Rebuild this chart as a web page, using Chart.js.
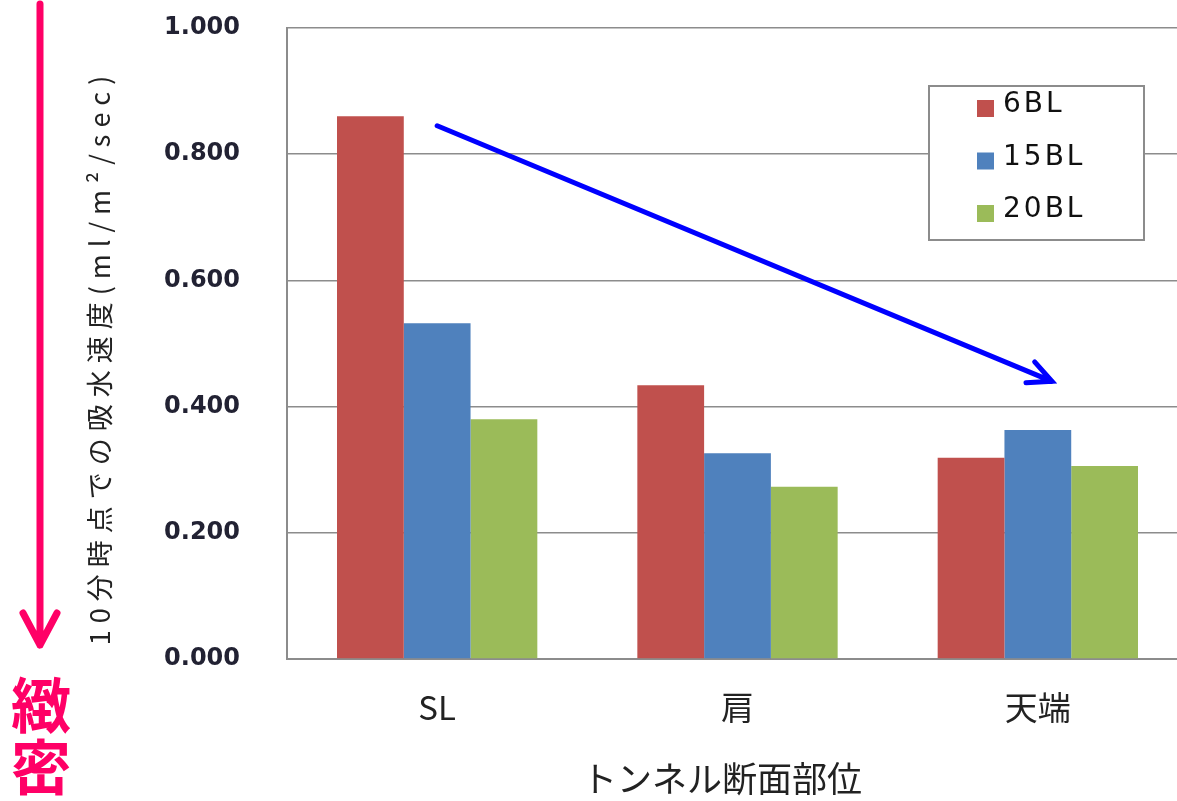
<!DOCTYPE html>
<html lang="ja">
<head>
<meta charset="utf-8">
<script src="https://cdn.jsdelivr.net/npm/chart.js@4.4.0/dist/chart.umd.min.js"></script>
<style>
    html, body { margin: 0; padding: 0; background: #fff; overflow: hidden; }
    #wrap { position: relative; width: 1200px; height: 801px; }
</style>
</head>
<body>
<div id="wrap"><canvas id="absorbChart" width="1200" height="801"></canvas></div>
<script>
// data
const categories = ['SL', '肩', '天端'];
const seriesNames = ['6BL', '15BL', '20BL'];
const values6BL = [0.860, 0.434, 0.319];
const values15BL = [0.532, 0.326, 0.363];
const values20BL = [0.380, 0.273, 0.306];
const yTickValues = [0, 0.2, 0.4, 0.6, 0.8, 1.0];
const yTitle = '10分時点での吸水速度(ml/m²/sec)';
const xTitle = 'トンネル断面部位';
const sideNote = ['緻', '密'];
// trend arrow, in category index / value units
const trendFrom = [0, 0.845];
const trendTo = [2.047, 0.44];

const barColors = ['#C0504D', '#4F81BD', '#9BBB59'];
const gridColor = '#8c8c8c';
const pink = '#FF0066';

// Extra drawing: legend box, arrows, axis titles
const decorPlugin = {
    id: 'decor',
    afterDraw: function (chart) {
        const ctx = chart.ctx;
        const xs = chart.scales.x;
        const ys = chart.scales.y;

        // legend box
        ctx.save();
        ctx.fillStyle = '#fff';
        ctx.strokeStyle = gridColor;
        ctx.lineWidth = 2;
        ctx.fillRect(929, 86, 215, 154);
        ctx.strokeRect(929, 86, 215, 154);
        ctx.font = '28px "DejaVu Sans"';
        ctx.letterSpacing = '3px';
        ctx.textBaseline = 'middle';
        chart.data.datasets.forEach(function (ds, i) {
            const cy = 108 + i * 52.5;
            ctx.fillStyle = ds.backgroundColor;
            ctx.fillRect(977, cy - 8, 17, 17);
            ctx.fillStyle = '#111';
            ctx.fillText(ds.label, 1003, cy - 3);
        });
        ctx.restore();

        // blue trend arrow
        const x1 = xs.getPixelForValue(trendFrom[0]);
        const y1 = ys.getPixelForValue(trendFrom[1]);
        const x2 = xs.getPixelForValue(trendTo[0]);
        const y2 = ys.getPixelForValue(trendTo[1]);
        const ang = Math.atan2(y2 - y1, x2 - x1);
        ctx.save();
        ctx.strokeStyle = '#0000FF';
        ctx.lineWidth = 5;
        ctx.lineCap = 'round';
        ctx.beginPath();
        ctx.moveTo(x1, y1);
        ctx.lineTo(x2, y2);
        ctx.moveTo(x2 - 26 * Math.cos(ang - 0.45), y2 - 26 * Math.sin(ang - 0.45));
        ctx.lineTo(x2, y2);
        ctx.lineTo(x2 - 26 * Math.cos(ang + 0.45), y2 - 26 * Math.sin(ang + 0.45));
        ctx.stroke();
        ctx.restore();

        // y axis title, rotated
        ctx.save();
        ctx.translate(100, 357);
        ctx.rotate(-Math.PI / 2);
        ctx.font = '27px "Noto Sans CJK JP"';
        ctx.letterSpacing = '7px';
        ctx.fillStyle = '#222';
        ctx.textAlign = 'center';
        ctx.textBaseline = 'middle';
        ctx.fillText(yTitle, 0, 0);
        ctx.restore();

        // x axis title
        ctx.save();
        ctx.font = '35px "Noto Sans CJK JP"';
        ctx.fillStyle = '#222';
        ctx.textAlign = 'center';
        ctx.textBaseline = 'middle';
        ctx.fillText(xTitle, 722, 779);
        ctx.restore();

        // pink arrow and note
        ctx.save();
        ctx.strokeStyle = pink;
        ctx.lineWidth = 7;
        ctx.lineCap = 'round';
        ctx.lineJoin = 'round';
        ctx.beginPath();
        ctx.moveTo(40, 4);
        ctx.lineTo(40, 645);
        ctx.moveTo(23, 613);
        ctx.lineTo(40, 645);
        ctx.lineTo(57, 613);
        ctx.stroke();
        ctx.fillStyle = pink;
        ctx.font = 'bold 60px "Noto Sans CJK JP"';
        ctx.textAlign = 'center';
        ctx.textBaseline = 'middle';
        ctx.fillText(sideNote[0], 41, 705);
        ctx.fillText(sideNote[1], 41, 767);
        ctx.restore();
    }
};

const chart = new Chart(document.getElementById('absorbChart'), {
    type: 'bar',
    data: {
        labels: categories,
        datasets: [
            { label: seriesNames[0], data: values6BL, backgroundColor: barColors[0] },
            { label: seriesNames[1], data: values15BL, backgroundColor: barColors[1] },
            { label: seriesNames[2], data: values20BL, backgroundColor: barColors[2] }
        ]
    },
    options: {
        responsive: false,
        animation: false,
        devicePixelRatio: 1,
        layout: { padding: { left: 0, right: 12, top: 28, bottom: 0 } },
        datasets: {
            bar: { categoryPercentage: 0.667, barPercentage: 1.0, borderWidth: 0 }
        },
        scales: {
            x: {
                grid: { display: false, drawTicks: false },
                border: { display: true, color: gridColor, width: 2 },
                ticks: {
                    color: '#222',
                    padding: 29,
                    font: { family: '"Noto Sans CJK JP"', size: 33 }
                },
                afterFit: function (scale) { scale.height = 142; }
            },
            y: {
                min: 0,
                max: 1,
                afterBuildTicks: function (scale) {
                    scale.ticks = yTickValues.map(function (v) { return { value: v }; });
                },
                grid: { color: gridColor, lineWidth: 1.5, drawTicks: false },
                border: { display: true, color: gridColor, width: 2 },
                ticks: {
                    color: '#222233',
                    padding: 47,
                    font: { family: '"DejaVu Sans"', size: 24, weight: 'bold' },
                    callback: function (v) { return Number(v).toFixed(3); }
                },
                afterFit: function (scale) {
                    scale.width = 287;
                    // tick padding should not push the plot down
                    scale.paddingTop = 0;
                    scale.paddingBottom = 0;
                }
            }
        },
        plugins: {
            legend: { display: false },
            tooltip: { enabled: false }
        }
    },
    plugins: [decorPlugin]
});
</script>
</body>
</html>
